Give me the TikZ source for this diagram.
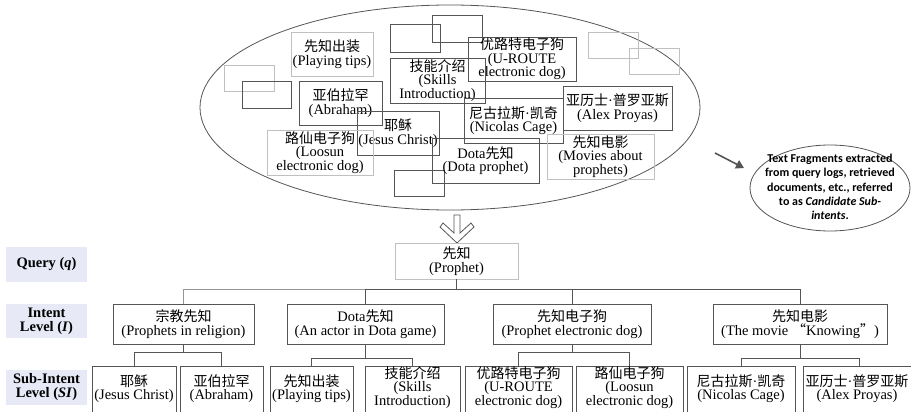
\documentclass[tikz,border=0pt]{standalone}
\usepackage{fontspec}
\setmainfont{Liberation Serif}
\newfontfamily\zhfont{Noto Sans CJK SC}
\newfontfamily\calibfont{Carlito}
\usetikzlibrary{shapes.geometric,arrows.meta,calc}
\definecolor{dk}{RGB}{85,85,85}
\definecolor{lt}{RGB}{192,192,192}
\definecolor{mid}{RGB}{150,150,150}
\definecolor{lav}{RGB}{231,233,246}
\newcommand\zh[1]{{\zhfont\fontsize{14}{13.5}\selectfont #1}}
\begin{document}
\begin{tikzpicture}[x=1pt,y=-1pt,
  txt/.style={font=\fontsize{14.5}{13.5}\selectfont, align=center, inner sep=0pt},
  dbox/.style={draw=dk, line width=0.9pt, rectangle, inner sep=0pt, txt},
  lbox/.style={draw=lt, line width=0.9pt, rectangle, inner sep=0pt, txt},
  lab/.style={fill=lav, rectangle, inner sep=0pt, font=\bfseries\fontsize{14.5}{14}\selectfont, align=center, minimum width=81pt},
  conn/.style={draw=dk, line width=0.9pt},
]
\useasboundingbox (0,0) rectangle (911,412);

% ---- cloud of candidate sub-intents
\node[draw=dk, line width=0.8pt, ellipse, minimum width=500pt, minimum height=205pt, inner sep=0pt] (cloud) at (450,107.5) {};

\node[dbox, minimum width=50pt, minimum height=28pt] (ea) at (415,38) {};
\node[dbox, minimum width=50pt, minimum height=27pt] (eb) at (457,28.5) {};
\node[lbox, minimum width=50pt, minimum height=26pt] (ec) at (249,78) {};
\node[dbox, minimum width=49pt, minimum height=27pt] (ed) at (266.5,94.5) {};
\node[dbox, minimum width=50pt, minimum height=26pt] (ee) at (419,183) {};
\node[lbox, minimum width=50pt, minimum height=26pt] (ef) at (613,45) {};
\node[lbox, minimum width=50pt, minimum height=26pt] (eg) at (654,61) {};

\node[dbox, minimum width=108pt, minimum height=44pt] (curoute) at (522,59) {\zh{优路特电子狗}\\(U-ROUTE\\electronic dog)};
\node[lbox, minimum width=82pt, minimum height=44pt] (cplay) at (332,54) {\zh{先知出装}\\(Playing tips)};
\node[dbox, minimum width=95pt, minimum height=45pt] (cskill) at (437.5,80.5) {\zh{技能介绍}\\(Skills\\Introduction)};
\node[dbox, minimum width=83pt, minimum height=44pt] (cabr) at (340.5,103) {\zh{亚伯拉罕}\\(Abraham)};
\node[dbox, minimum width=82pt, minimum height=44pt] (cjes) at (398,133) {\zh{耶稣}\\(Jesus Christ)};
\node[lbox, minimum width=106pt, minimum height=45pt] (cloo) at (320,152.5) {\zh{路仙电子狗}\\(Loosun\\electronic dog)};
\node[dbox, minimum width=99pt, minimum height=45pt] (cnic) at (513.5,120.5) {\zh{尼古拉斯}·\zh{凯奇}\\(Nicolas Cage)};
\node[dbox, minimum width=109pt, minimum height=44pt] (calex) at (617.5,108) {\zh{亚历士}·\zh{普罗亚斯}\\(Alex Proyas)};
\node[dbox, minimum width=107pt, minimum height=45pt] (cdota) at (485.5,160.5) {Dota\zh{先知}\\(Dota prophet)};
\node[lbox, minimum width=107pt, minimum height=45pt] (cmov) at (600.5,156.5) {\zh{先知电影}\\(Movies about\\prophets)};

% ---- note ellipse
\node[draw=dk, line width=0.8pt, ellipse, minimum width=160pt, minimum height=86pt, inner sep=0pt] (note) at (830,188) {};
\node[font=\calibfont\bfseries\fontsize{12}{14.3}\selectfont, align=center, inner sep=0pt] (notetext) at (830,187)
  {Text Fragments extracted\\from query logs, retrieved\\documents, etc., referred\\to as \textit{Candidate Sub-}\\\textit{intents}.};
\coordinate (arrA) at (715,153);
\coordinate (arrB) at (744,168);
\draw[dk, line width=1.6pt, -{Triangle[length=8pt,width=9pt]}] (arrA) -- (arrB);

% ---- hollow arrow down
\draw[dk, line width=0.8pt, fill=white] (454,215) -- (454,233) -- (443,223) -- (440,227) -- (457,243)
  -- (474,227) -- (471,223) -- (460,233) -- (460,215) -- cycle;

% ---- left labels
\node[lab, minimum height=35pt] (lq) at (46.5,264.5) {Query (\textit{q})};
\node[lab, minimum height=34pt] (li) at (46.5,321) {Intent\\Level (\textit{I})};
\node[lab, minimum height=35pt] (ls) at (46.5,387.5) {Sub-Intent\\Level (\textit{SI})};

% ---- query
\node[lbox, minimum width=123pt, minimum height=36pt] (q) at (456.5,261) {\zh{先知}\\(Prophet)};

% ---- intents
\node[dbox, minimum width=141pt, minimum height=40pt] (i1) at (183.5,324) {\zh{宗教先知}\\(Prophets in religion)};
\node[dbox, minimum width=157pt, minimum height=40pt] (i2) at (365.5,324) {Dota\zh{先知}\\(An actor in Dota game)};
\node[dbox, minimum width=158pt, minimum height=40pt] (i3) at (572,324) {\zh{先知电子狗}\\(Prophet electronic dog)};
\node[dbox, minimum width=174pt, minimum height=40pt] (i4) at (800,324) {\zh{先知电影}\\(The movie \zh{“}Knowing\zh{”})};

% ---- sub-intent boxes
\node[dbox, minimum width=84pt, minimum height=60pt] (s1) at (134,396) {};
\node[dbox, minimum width=83pt, minimum height=60pt] (s2) at (221.5,396) {};
\node[dbox, minimum width=83pt, minimum height=60pt] (s3) at (311.5,396) {};
\node[dbox, minimum width=95pt, minimum height=60pt] (s4) at (412.5,396) {};
\node[dbox, minimum width=107pt, minimum height=60pt] (s5) at (518.5,396) {};
\node[dbox, minimum width=107pt, minimum height=60pt] (s6) at (629.5,396) {};
\node[dbox, minimum width=108pt, minimum height=60pt] (s7) at (741,396) {};
\node[dbox, minimum width=113pt, minimum height=60pt] (s8) at (859.5,396) {};

\node[txt] (s1t) at (134,388.5) {\zh{耶稣}\\(Jesus Christ)};
\node[txt] (s2t) at (221.5,388.5) {\zh{亚伯拉罕}\\(Abraham)};
\node[txt] (s3t) at (311.5,388.5) {\zh{先知出装}\\(Playing tips)};
\node[txt] (s4t) at (412.5,387.5) {\zh{技能介绍}\\(Skills\\Introduction)};
\node[txt] (s5t) at (518.5,387.5) {\zh{优路特电子狗}\\(U-ROUTE\\electronic dog)};
\node[txt] (s6t) at (629.5,387.5) {\zh{路仙电子狗}\\(Loosun\\electronic dog)};
\node[txt] (s7t) at (741,388.5) {\zh{尼古拉斯}·\zh{凯奇}\\(Nicolas Cage)};
\node[txt] (s8t) at (857,388.5) {\zh{亚历士}·\zh{普罗亚斯}\\(Alex Proyas)};

% ---- connectors query -> intents
\draw[conn] (q.south) -- ++(0,10) coordinate (qbus);
\draw[draw=mid, line width=0.9pt] (i1.north) |- (i2.north |- qbus);
\draw[conn] (i2.north) |- (qbus) -| (i4.north);
\draw[conn] (i3.north) -- (i3.north |- qbus);

% ---- connectors intents -> sub-intents
\draw[conn] (i1.south) -- ++(0,8) coordinate (b1);
\draw[conn] (s1.north) |- (b1) -| (s2.north);
\draw[conn] (i2.south) -- ++(0,14) coordinate (b2);
\draw[conn] (s3.north) |- (b2) -| (s4.north);
\draw[conn] (i3.south) -- ++(0,8) coordinate (b3);
\draw[conn] (s5.north) |- (b3) -| (s6.north);
\draw[conn] (i4.south) -- ++(0,14) coordinate (b4);
\draw[conn] (s7.north) |- (b4) -| (s8.north);
\end{tikzpicture}
\end{document}
